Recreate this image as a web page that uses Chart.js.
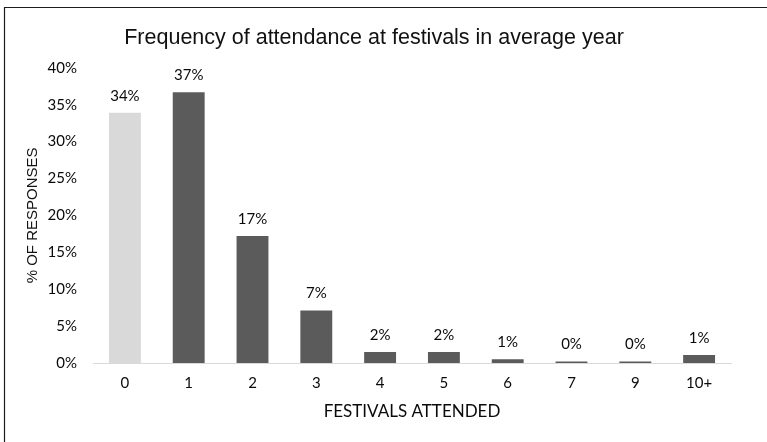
<!DOCTYPE html>
<html>
<head>
<meta charset="utf-8">
<script src="https://cdn.jsdelivr.net/npm/chart.js@4/dist/chart.umd.min.js"></script>
<style>
  html, body { margin: 0; padding: 0; background: #fff; }
  #chart { display: block; }
</style>
</head>
<body>
<canvas id="chart" width="767" height="442"></canvas>
<script>
// festivals attended per year vs share of responses (%)
const categories = ["0", "1", "2", "3", "4", "5", "6", "7", "9", "10+"];
const responses = [33.9, 36.7, 17.2, 7.1, 1.5, 1.5, 0.5, 0.2, 0.2, 1.1];
const yTicks = [0, 5, 10, 15, 20, 25, 30, 35, 40];

const barColors = categories.map((c, i) => (i === 0 ? "#d9d9d9" : "#5b5b5b"));

// thin frame on the left and top edge
const framePlugin = {
    id: "frame",
    afterDraw(chart) {
        const ctx = chart.ctx;
        ctx.save();
        ctx.strokeStyle = "#1c1c1c";
        ctx.lineWidth = 1.2;
        ctx.beginPath();
        ctx.moveTo(4.5, 442);
        ctx.lineTo(4.5, 7.5);
        ctx.lineTo(767, 7.5);
        ctx.stroke();
        ctx.restore();
    },
};

// percent labels above each bar
const valueLabels = {
    id: "valueLabels",
    afterDatasetsDraw(chart) {
        const ctx = chart.ctx;
        const meta = chart.getDatasetMeta(0);
        ctx.save();
        ctx.font = "15px Lato";
        ctx.fillStyle = "#0a0a0a";
        ctx.textAlign = "center";
        ctx.textBaseline = "middle";
        meta.data.forEach((bar, i) => {
            const v = chart.data.datasets[0].data[i];
            ctx.fillText(Math.round(v) + "%", bar.x, bar.y - 17);
        });
        ctx.restore();
    },
};

new Chart(document.getElementById("chart"), {
    type: "bar",
    data: {
        labels: categories,
        datasets: [
            {
                data: responses,
                backgroundColor: barColors,
                borderWidth: 0,
                categoryPercentage: 1,
                barPercentage: 0.5,
            },
        ],
    },
    options: {
        responsive: false,
        animation: false,
        devicePixelRatio: 1,
        layout: {
            padding: { left: 17, right: 36, top: 0, bottom: 0 },
        },
        plugins: {
            legend: { display: false },
            tooltip: { enabled: false },
            title: {
                display: true,
                text: "Frequency of attendance at festivals in average year",
                color: "#111",
                font: { family: "Liberation Sans", size: 21.5, weight: "normal", lineHeight: 1.2 },
                padding: { top: 25, bottom: 17 },
            },
        },
        scales: {
            x: {
                grid: { display: false, drawTicks: false },
                border: { display: true, color: "#d9d9d9", width: 1 },
                ticks: {
                    color: "#0a0a0a",
                    font: { family: "Lato", size: 15 },
                    padding: 11,
                },
                title: {
                    display: true,
                    text: "FESTIVALS ATTENDED",
                    color: "#0a0a0a",
                    font: { family: "Lato", size: 17 },
                    padding: { top: 0, bottom: 20 },
                },
                afterFit(scale) {
                    scale.height = 79;
                },
            },
            y: {
                min: 0,
                max: 40,
                grid: { display: false, drawTicks: false },
                border: { display: false },
                afterBuildTicks(scale) {
                    scale.ticks = yTicks.map((v) => ({ value: v }));
                },
                ticks: {
                    color: "#0a0a0a",
                    font: { family: "Lato", size: 15 },
                    padding: 16,
                    callback: (v) => v + "%",
                },
                title: {
                    display: true,
                    text: "% OF RESPONSES",
                    color: "#111",
                    font: { family: "Liberation Sans", size: 15 },
                    padding: { top: 7, bottom: 0 },
                },
                afterFit(scale) {
                    scale.width = 76;
                },
            },
        },
    },
    plugins: [framePlugin, valueLabels],
});
</script>
</body>
</html>
